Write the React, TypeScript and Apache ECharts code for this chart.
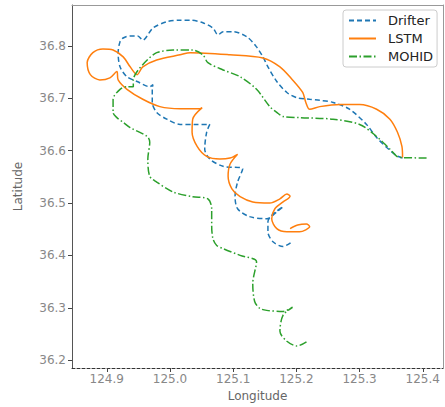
import React, { useEffect, useRef } from "react";
import * as echarts from "echarts";

const xTicks = [124.9, 125.0, 125.1, 125.2, 125.3, 125.4];
const yTicks = [36.2, 36.3, 36.4, 36.5, 36.6, 36.7, 36.8];

const drifterLon = [125.368, 125.359, 125.343, 125.327, 125.311, 125.284, 125.258, 125.237, 125.221, 125.201, 125.185, 125.169, 125.155, 125.147, 125.137, 125.122, 125.100, 125.084, 125.076, 125.068, 125.052, 125.032, 125.016, 124.995, 124.973, 124.957, 124.949, 124.937, 124.926, 124.921, 124.918, 124.921, 124.932, 124.948, 124.968, 124.973, 124.972, 124.972, 124.979, 124.995, 125.016, 125.039, 125.063, 125.058, 125.055, 125.063, 125.084, 125.115, 125.107, 125.103, 125.107, 125.126, 125.153, 125.169, 125.179, 125.163, 125.155, 125.155, 125.163, 125.179, 125.193];
const drifterLat = [36.586, 36.590, 36.606, 36.625, 36.650, 36.679, 36.692, 36.696, 36.698, 36.701, 36.711, 36.732, 36.760, 36.779, 36.798, 36.817, 36.827, 36.827, 36.821, 36.834, 36.844, 36.849, 36.849, 36.846, 36.834, 36.811, 36.819, 36.819, 36.815, 36.808, 36.787, 36.760, 36.741, 36.732, 36.722, 36.726, 36.717, 36.692, 36.673, 36.660, 36.650, 36.650, 36.650, 36.635, 36.603, 36.584, 36.570, 36.565, 36.540, 36.513, 36.489, 36.474, 36.470, 36.483, 36.493, 36.479, 36.464, 36.445, 36.426, 36.417, 36.426];

const lstmLon = [125.368, 125.367, 125.360, 125.348, 125.327, 125.300, 125.269, 125.237, 125.221, 125.215, 125.210, 125.194, 125.174, 125.147, 125.095, 125.032, 125.016, 124.979, 124.957, 124.948, 124.937, 124.926, 124.910, 124.894, 124.878, 124.869, 124.874, 124.889, 124.905, 124.916, 124.918, 124.932, 124.957, 124.984, 125.016, 125.047, 125.051, 125.036, 125.035, 125.043, 125.058, 125.079, 125.095, 125.107, 125.095, 125.092, 125.098, 125.111, 125.131, 125.158, 125.174, 125.185, 125.190, 125.179, 125.166, 125.161, 125.169, 125.185, 125.205, 125.221, 125.216, 125.202, 125.190];
const lstmLat = [36.587, 36.608, 36.635, 36.660, 36.679, 36.688, 36.688, 36.684, 36.679, 36.692, 36.711, 36.735, 36.760, 36.777, 36.783, 36.787, 36.783, 36.773, 36.760, 36.745, 36.760, 36.779, 36.792, 36.794, 36.787, 36.768, 36.745, 36.735, 36.739, 36.751, 36.735, 36.717, 36.698, 36.684, 36.680, 36.680, 36.682, 36.660, 36.635, 36.608, 36.589, 36.584, 36.586, 36.593, 36.574, 36.551, 36.527, 36.512, 36.502, 36.500, 36.508, 36.517, 36.513, 36.502, 36.489, 36.470, 36.451, 36.445, 36.445, 36.455, 36.460, 36.458, 36.451];

const mohidLon = [125.406, 125.363, 125.348, 125.327, 125.300, 125.258, 125.205, 125.179, 125.169, 125.158, 125.137, 125.111, 125.084, 125.060, 125.052, 125.036, 125.005, 124.979, 124.964, 124.948, 124.942, 124.942, 124.932, 124.921, 124.910, 124.910, 124.916, 124.926, 124.937, 124.964, 124.968, 124.965, 124.968, 124.979, 125.005, 125.036, 125.060, 125.066, 125.066, 125.068, 125.074, 125.084, 125.111, 125.137, 125.131, 125.134, 125.142, 125.153, 125.179, 125.194, 125.179, 125.174, 125.185, 125.201, 125.216];
const mohidLat = [36.586, 36.587, 36.603, 36.627, 36.650, 36.660, 36.663, 36.665, 36.673, 36.684, 36.717, 36.741, 36.754, 36.768, 36.783, 36.792, 36.792, 36.787, 36.773, 36.751, 36.735, 36.722, 36.722, 36.717, 36.698, 36.673, 36.663, 36.654, 36.644, 36.627, 36.616, 36.584, 36.551, 36.540, 36.521, 36.512, 36.508, 36.489, 36.457, 36.432, 36.419, 36.413, 36.400, 36.388, 36.346, 36.312, 36.299, 36.295, 36.293, 36.301, 36.286, 36.255, 36.236, 36.227, 36.235];

const zip = (a: number[], b: number[]) => a.map((v, i) => [v, b[i]]);

const FONT = "DejaVu Sans";

export default function App() {
  const ref = useRef<HTMLDivElement>(null);
  useEffect(() => {
    if (!ref.current) return;
    const chart = echarts.init(ref.current, undefined, { renderer: "svg" });
    const lineSeries = (name: string, data: number[][], color: string, type: any) => ({
      name,
      type: "line",
      data,
      symbol: "none",
      showSymbol: false,
      smooth: 0.3,
      lineStyle: { color, width: 1.5, type },
      itemStyle: { color },
      xAxisIndex: 0,
      yAxisIndex: 0,
    });
    chart.setOption({
      animation: false,
      textStyle: { fontFamily: FONT },
      grid: { left: 72, right: 2, top: 5, bottom: 37 },
      legend: {
        orient: "vertical",
        left: 343,
        top: 10,
        itemWidth: 27,
        itemHeight: 12,
        itemGap: 5,
        padding: [4, 4, 4, 5],
        borderColor: "#cccccc",
        borderWidth: 1,
        borderRadius: 3,
        backgroundColor: "#ffffff",
        itemStyle: { opacity: 0 },
        textStyle: { fontSize: 13, color: "#222", fontFamily: FONT, padding: [0, 0, 0, 7] },
        data: ["Drifter", "LSTM", "MOHID"],
      },
      xAxis: [
        {
          type: "value",
          min: 124.845,
          max: 125.432,
          name: "Longitude",
          nameLocation: "middle",
          nameGap: 22,
          nameTextStyle: { fontSize: 12, color: "#666", fontFamily: FONT },
          axisLine: { show: true, lineStyle: { color: "#333", type: [3, 2], width: 1 } },
          axisTick: { show: true, length: 4, customValues: xTicks, lineStyle: { color: "#444" } },
          axisLabel: {
            customValues: xTicks,
            formatter: (v: number) => v.toFixed(1),
            color: "#888",
            fontSize: 12,
            margin: 5,
            fontFamily: FONT,
          },
          splitLine: { show: false },
        },
        {
          type: "value",
          position: "top",
          min: 124.845,
          max: 125.432,
          axisLine: { show: true, lineStyle: { color: "#999", width: 1 } },
          axisTick: { show: false },
          axisLabel: { show: false },
          splitLine: { show: false },
        },
      ],
      yAxis: [
        {
          type: "value",
          min: 36.185,
          max: 36.878,
          name: "Latitude",
          nameLocation: "middle",
          nameRotate: 90,
          nameGap: 48,
          nameTextStyle: { fontSize: 12, color: "#666", fontFamily: FONT },
          axisLine: { show: true, lineStyle: { color: "#555", width: 1 } },
          axisTick: { show: true, length: 4, customValues: yTicks, lineStyle: { color: "#444" } },
          axisLabel: {
            customValues: yTicks,
            formatter: (v: number) => v.toFixed(1),
            color: "#888",
            fontSize: 12,
            margin: 6,
            fontFamily: FONT,
          },
          splitLine: { show: false },
        },
        {
          type: "value",
          position: "right",
          min: 36.185,
          max: 36.878,
          axisLine: { show: true, lineStyle: { color: "#999", width: 1 } },
          axisTick: { show: false },
          axisLabel: { show: false },
          splitLine: { show: false },
        },
      ],
      series: [
        lineSeries("Drifter", zip(drifterLon, drifterLat), "#1f77b4", [5, 3]),
        lineSeries("LSTM", zip(lstmLon, lstmLat), "#ff7f0e", "solid"),
        lineSeries("MOHID", zip(mohidLon, mohidLat), "#2ca02c", [8, 2.5, 1.5, 2.5]),
      ],
    });
    return () => chart.dispose();
  }, []);
  return <div ref={ref} style={{ width: 445, height: 407, position: "absolute", left: 0, top: 0 }} />;
}
